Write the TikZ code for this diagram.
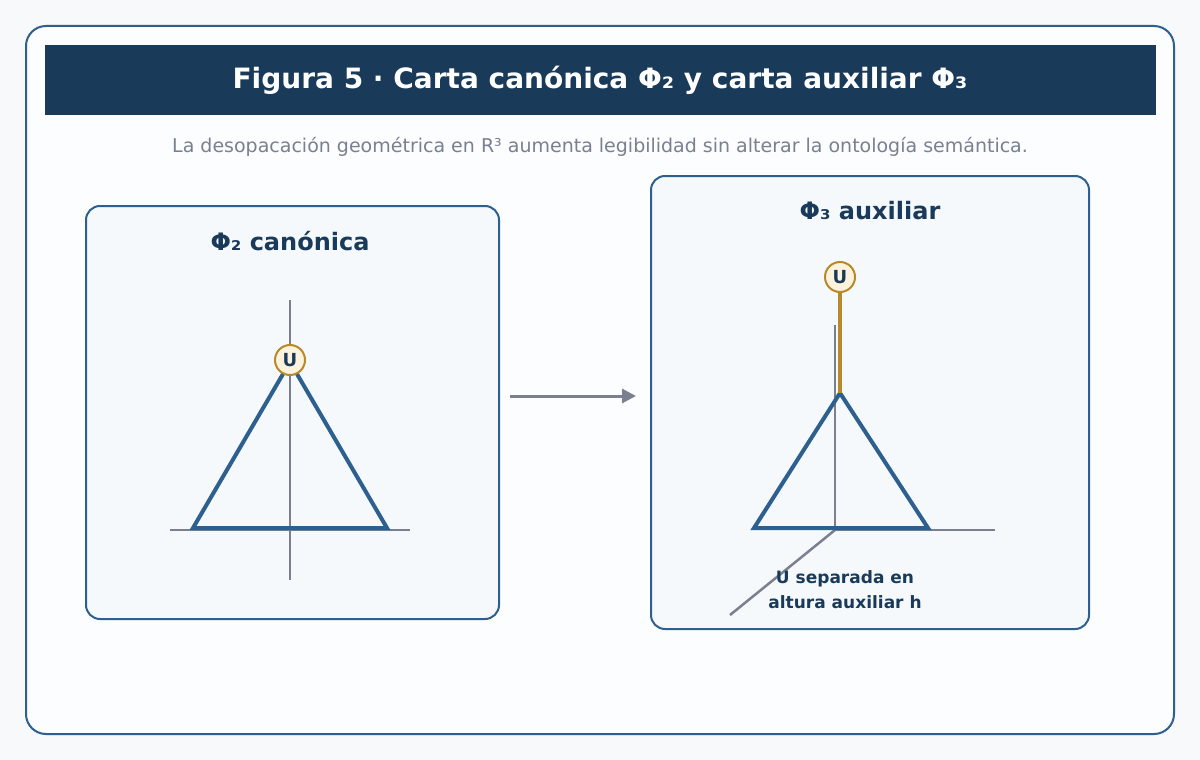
\documentclass[tikz,border=0pt]{standalone}
\usepackage{fontspec}
\setmainfont{DejaVu Sans}
\usetikzlibrary{arrows.meta}
\definecolor{bg}{HTML}{F7F9FB}
\definecolor{frame}{HTML}{2D5F8F}
\definecolor{navy}{HTML}{1A3A5A}
\definecolor{grayx}{HTML}{7A8090}
\definecolor{panel}{HTML}{F5F9FC}
\definecolor{gold}{HTML}{B8892A}
\definecolor{cream}{HTML}{FDF3DC}
\begin{document}
\begin{tikzpicture}[x=1pt,y=-1pt,
  panelbox/.style={draw=frame,line width=2pt,fill=panel,rounded corners=14pt},
  ptitle/.style={font=\fontsize{24}{28}\selectfont\bfseries,text=navy},
  axis/.style={draw=grayx,line width=2.5pt},
  tri/.style={draw=frame,line width=4pt,line join=miter},
  unode/.style={circle,draw=gold,line width=2pt,fill=cream,minimum size=30pt,inner sep=0pt,font=\fontsize{18}{20}\selectfont\bfseries,text=navy}]
\fill[bg] (0,0) rectangle (1200,760);
\useasboundingbox (0,0) rectangle (1200,760);
\draw[draw=frame,line width=2pt,fill=white!60!panel,rounded corners=20pt] (26,26) rectangle (1174,734);
\node[fill=navy,minimum width=1111pt,minimum height=70pt,inner sep=0pt] (bar) at (600.5,80) {};
\node[font=\fontsize{28}{32}\selectfont\bfseries,text=white] (title) at (600,80) {Figura 5 · Carta canónica Φ₂ y carta auxiliar Φ₃};
\node[font=\fontsize{19}{22}\selectfont,text=grayx] (sub) at (600,147) {La desopacación geométrica en R³ aumenta legibilidad sin alterar la ontología semántica.};
% left panel
\draw[panelbox] (86,206) rectangle (499,619);
\node[ptitle] (lt) at (290,241) {Φ₂ canónica};
\coordinate (lv1) at (290,300); \coordinate (lv2) at (290,580);
\coordinate (lh1) at (170,530); \coordinate (lh2) at (410,530);
\draw[axis] (lv1) -- (lv2); \draw[axis] (lh1) -- (lh2);
\coordinate (la) at (193,528); \coordinate (lb) at (387,528); \coordinate (lc) at (290,362);
\draw[tri] (la) -- (lb) -- (lc) -- cycle;
\node[unode] (lu) at (290,360) {U};
% arrow
\coordinate (a1) at (510,396); \coordinate (a2) at (636,396);
\draw[draw=grayx,line width=3pt,-{Triangle[length=14pt,width=14pt]}] (a1) -- (a2);
% right panel
\draw[panelbox] (651,176) rectangle (1089,629);
\node[ptitle] (rt) at (870,211) {Φ₃ auxiliar};
\coordinate (o) at (835,530);
\coordinate (rv) at (835,325); \coordinate (rh) at (995,530); \coordinate (rd) at (730,615);
\draw[axis] (o) -- (rv); \draw[axis] (o) -- (rh); \draw[axis] (o) -- (rd);
\coordinate (ra) at (754,528); \coordinate (rb) at (928,528); \coordinate (rc) at (840,393);
\draw[tri] (ra) -- (rb) -- (rc) -- cycle;
\node[unode] (ru) at (840,277) {U};
\draw[draw=gold,line width=4pt] (rc) -- (ru.south);
\node[font=\fontsize{17}{25}\selectfont\bfseries,text=navy,align=center] (note) at (845,590) {U separada en\\altura auxiliar h};
\end{tikzpicture}
\end{document}
